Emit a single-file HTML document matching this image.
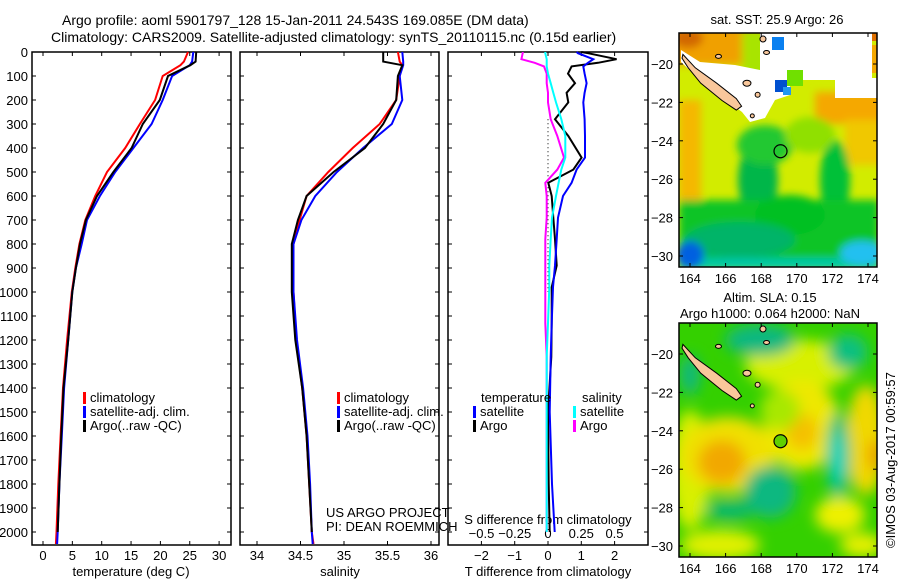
<!DOCTYPE html>
<html><head><meta charset="utf-8"><style>
html,body{margin:0;padding:0;background:#fff;}
svg{display:block;font-family:"Liberation Sans",sans-serif;}
text{font-size:13px;fill:#000;}
</style></head><body>
<svg id="fig" width="900" height="580" viewBox="0 0 900 580" xmlns="http://www.w3.org/2000/svg">
<defs>
<filter id="blur4" x="-50%" y="-50%" width="200%" height="200%"><feGaussianBlur stdDeviation="4"/></filter>
<filter id="blur7" x="-50%" y="-50%" width="200%" height="200%"><feGaussianBlur stdDeviation="7"/></filter>
<clipPath id="clipTop"><rect x="679" y="33" width="198" height="234"/></clipPath>
<clipPath id="clipBot"><rect x="679" y="323" width="198" height="234"/></clipPath>
</defs>
<text x="62" y="25" style="font-size:14px">Argo profile: aoml 5901797_128 15-Jan-2011 24.543S 169.085E (DM data)</text>
<text x="51" y="42" style="font-size:14px">Climatology: CARS2009. Satellite-adjusted climatology: synTS_20110115.nc (0.15d earlier)</text>

<g clip-path="url(#clipTop)">
<rect x="679" y="33" width="198" height="234" fill="#d2ec00"/>
<g filter="url(#blur4)">
<rect x="670" y="25" width="95" height="40" fill="#f0a000"/>
<ellipse cx="688" cy="38" rx="15" ry="10" fill="#d26800"/>
<rect x="742" y="30" width="35" height="55" fill="#a8e400"/>
<rect x="679" y="100" width="22" height="140" fill="#f5b800"/>
<rect x="815" y="92" width="70" height="32" fill="#f5a800"/>
<rect x="845" y="120" width="40" height="45" fill="#f0c800"/>
<ellipse cx="758" cy="180" rx="20" ry="38" fill="#00b648"/>
<ellipse cx="765" cy="145" rx="28" ry="20" fill="#20c830"/>
<ellipse cx="835" cy="180" rx="15" ry="40" fill="#00c038"/>
<ellipse cx="810" cy="135" rx="25" ry="18" fill="#90e000"/>
<rect x="679" y="200" width="200" height="70" fill="#10c428"/>
<ellipse cx="790" cy="215" rx="35" ry="20" fill="#00c020"/>
<ellipse cx="740" cy="240" rx="55" ry="18" fill="#00b468"/>
<rect x="679" y="258" width="200" height="12" fill="#00c8a8"/>
<ellipse cx="690" cy="255" rx="14" ry="14" fill="#0060e0"/>
<ellipse cx="862" cy="253" rx="22" ry="12" fill="#20c0f0"/>
</g>
<rect x="760" y="33" width="112" height="47" fill="#fff"/>
<rect x="835" y="78" width="42" height="20" fill="#fff"/>
<polygon points="681,50 700,62 735,65 760,70 790,80 790,95 775,100 765,118 750,122 742,112 700,80 681,62" fill="#fff"/>
<rect x="772" y="37" width="12" height="13" fill="#0a80f0"/>
<rect x="787" y="70" width="16" height="16" fill="#70e000"/>
<rect x="775" y="80" width="12" height="12" fill="#0050d0"/>
<rect x="783" y="87" width="8" height="8" fill="#2098f0"/>
<rect x="872" y="33" width="5" height="8" fill="#e07000"/>
<rect x="872" y="45" width="5" height="28" fill="#f5a800"/>
</g>
<g clip-path="url(#clipBot)">
<rect x="679" y="323" width="198" height="234" fill="#34d000"/>
<g filter="url(#blur7)">
<ellipse cx="800" cy="365" rx="55" ry="25" fill="#d8f000"/>
<ellipse cx="690" cy="470" rx="20" ry="60" fill="#d8f000"/>
<ellipse cx="728" cy="455" rx="48" ry="38" fill="#f0e000"/>
<ellipse cx="722" cy="462" rx="24" ry="22" fill="#f2a800"/>
<ellipse cx="802" cy="425" rx="38" ry="45" fill="#eee800"/>
<ellipse cx="802" cy="432" rx="16" ry="18" fill="#f5c000"/>
<ellipse cx="866" cy="440" rx="20" ry="55" fill="#f0d800"/>
<ellipse cx="876" cy="455" rx="8" ry="16" fill="#f0a000"/>
<ellipse cx="838" cy="457" rx="12" ry="45" fill="#10c080"/>
<ellipse cx="838" cy="457" rx="6" ry="25" fill="#00d8c8"/>
<ellipse cx="760" cy="340" rx="35" ry="16" fill="#10b880"/>
<ellipse cx="770" cy="492" rx="26" ry="26" fill="#10b880"/>
<ellipse cx="690" cy="375" rx="10" ry="20" fill="#10b880"/>
<ellipse cx="848" cy="352" rx="20" ry="18" fill="#10c080"/>
<ellipse cx="840" cy="515" rx="25" ry="18" fill="#eef000"/>
<ellipse cx="720" cy="545" rx="40" ry="15" fill="#e0f000"/>
<ellipse cx="862" cy="545" rx="22" ry="12" fill="#e8f000"/>
<ellipse cx="730" cy="510" rx="25" ry="10" fill="#10b870"/>
<ellipse cx="780" cy="410" rx="20" ry="20" fill="#a8e800"/>
</g>
</g>
<g id="mapOverlays"></g>

<g id="chart"></g>

<text transform="translate(895,548) rotate(-90)" style="font-size:13px">©IMOS 03-Aug-2017 00:59:57</text>
<text x="777" y="24" text-anchor="middle">sat. SST: 25.9 Argo: 26</text>
<text x="770" y="302" text-anchor="middle">Altim. SLA: 0.15</text>
<text x="770" y="318" text-anchor="middle">Argo h1000: 0.064 h2000: NaN</text>
<text x="326" y="517">US ARGO PROJECT</text>
<text x="326" y="531">PI: DEAN ROEMMICH</text>
</svg>
<script>
// ---- data ----
const depths = [0,40,55,100,200,300,400,500,600,700,800,900,1000,1200,1400,1600,1800,2000,2050];
const tClim = [24.7,24.0,23.4,20.4,19.1,16.5,14.0,10.9,8.9,7.2,6.2,5.5,4.9,4.1,3.4,3.0,2.6,2.3,2.2];
const tSat  = [25.6,25.4,25.0,22.0,20.4,18.5,15.4,12.3,9.7,7.5,6.6,5.6,5.0,4.3,3.6,3.2,2.8,2.5,2.4];
const tArgo = [26.1,26.0,25.1,21.3,19.9,17.0,15.1,12.0,9.2,7.3,6.3,5.6,5.0,4.3,3.5,3.1,2.8,2.5,2.4];
const sClim = [35.62,35.64,35.67,35.64,35.60,35.41,35.10,34.82,34.57,34.49,34.42,34.42,34.42,34.45,34.52,34.57,34.60,34.63,34.65];
const sSat  = [35.67,35.68,35.68,35.64,35.67,35.55,35.22,34.92,34.67,34.51,34.42,34.42,34.42,34.46,34.53,34.58,34.61,34.63,34.64];
const sArgo = [35.45,35.45,35.67,35.62,35.60,35.45,35.24,34.88,34.57,34.47,34.40,34.40,34.40,34.44,34.52,34.57,34.60,34.63,34.64];
const diffDepths = [0,5,30,45,60,90,130,170,210,280,350,440,490,545,600,690,780,890,980,1130,1270,1500,1800,2000];
const dTArgo = [1.0,1.2,2.06,1.5,0.71,0.6,0.81,0.56,0.61,0.21,0.61,1.01,0.76,0.01,0.11,0.16,0.21,0.26,0.11,0.11,0.1,0.0,0.02,0.05];
const dTSat  = [0.86,0.9,1.36,1.2,1.06,1.1,1.16,1.1,1.06,1.1,1.11,1.11,0.86,0.71,0.45,0.3,0.26,0.21,0.15,0.11,0.08,0.05,0.12,0.2];
const dSArgo = [-0.19,-0.19,-0.2,-0.1,-0.03,-0.01,-0.01,0,0,0.02,0.07,0.12,0.07,-0.02,-0.01,-0.01,-0.02,-0.02,-0.02,-0.02,-0.01,-0.01,-0.01,-0.01];
const dSSat  = [-0.02,-0.02,-0.01,-0.01,-0.01,0,0.02,0.04,0.06,0.1,0.13,0.13,0.1,0.08,0.06,0.03,0.02,0.01,0.01,0,-0.01,-0.01,-0.01,-0.01];
const depthTicks = [0,100,200,300,400,500,600,700,800,900,1000,1100,1200,1300,1400,1500,1600,1700,1800,1900,2000];
const tTicks = [0,5,10,15,20,25,30];
const sTicks = [34,34.5,35,35.5,36];
const sTickLabels = ["34","34.5","35","35.5","36"];
const dTTicks = [-2,-1,0,1,2];
const dSTicks = [-0.5,-0.25,0,0.25,0.5];
const dSTickLabels = ["\u22120.5","\u22120.25","0","0.25","0.5"];
const lonTicks = [164,166,168,170,172,174];
const latTicks = [-20,-22,-24,-26,-28,-30];
const argoLon = 169.085, argoLat = -24.543;

// ---- scales ----
const yD = d => 52 + 0.24*d;
const xT = t => 43 + 5.87*t;
const xS = s => 257 + 87*(s-34);
const xdT = v => 548 + 33.3*v;
const xdS = v => 548 + 133*v;
const mapX = lon => 690 + 17.8*(lon-164);
const mapYTop = lat => 64 + 19.2*(-20-lat);
const mapYBot = lat => 354 + 19.2*(-20-lat);

const NS = "http://www.w3.org/2000/svg";
const chart = document.getElementById("chart");
function mk(tag, attrs, parent){
  const e = document.createElementNS(NS, tag);
  for (const k in attrs) e.setAttribute(k, attrs[k]);
  (parent||chart).appendChild(e);
  return e;
}
function txt(s, x, y, anchor, parent){
  const t = mk("text", {x:x, y:y, "text-anchor":anchor||"start"}, parent);
  t.textContent = s;
  return t;
}

const panels = [[32,231],[240,439],[448,648]];
panels.forEach((p,i)=>{
  const r = mk("rect",{x:p[0],y:52,width:p[1]-p[0],height:493,fill:"none",stroke:"#000","stroke-width":1.5});
  
  
  depthTicks.forEach(d=>{
    mk("line",{x1:p[0],x2:p[0]+4,y1:yD(d),y2:yD(d),stroke:"#000"});
    mk("line",{x1:p[1]-4,x2:p[1],y1:yD(d),y2:yD(d),stroke:"#000"});
  });
});
depthTicks.forEach(d=>{
  const t = txt(String(d), 28, yD(d)+5, "end");
  
  
});
function xTicks(vals, fx, labels, ly, top){
  vals.forEach((v,i)=>{
    const x = fx(v);
    mk("line",{x1:x,x2:x,y1:541,y2:545,stroke:"#000"});
    if (top) mk("line",{x1:x,x2:x,y1:52,y2:56,stroke:"#000"});
    if (labels){
      const t = txt(labels[i], x, ly, "middle");
      
      
    }
  });
}
xTicks(tTicks, xT, tTicks.map(String), 560, true);
xTicks(sTicks, xS, sTickLabels, 560, true);
xTicks(dTTicks, xdT, dTTicks.map(v=>v<0?"\u2212"+(-v):String(v)), 560, true);
dSTicks.forEach((v,i)=>{
  const t = txt(dSTickLabels[i], xdS(v), 538, "middle");
  
  
});
[["temperature (deg C)",131,"temp-axis-title"],["salinity",340,"salinity-axis-title"],["T difference from climatology",548,"t-diff-axis-title"]].forEach(a=>{
  const t = txt(a[0], a[1], 576, "middle");
  
  
});
const st = txt("S difference from climatology", 548, 524, "middle");



const zl = mk("line",{x1:548,x2:548,y1:yD(280),y2:yD(1000),stroke:"#000","stroke-dasharray":"1,3"});



function profile(vals, ds, fx, color, name, w){
  const pts = vals.map((v,i)=>fx(v).toFixed(1)+","+yD(ds[i]).toFixed(1)).join(" ");
  const pl = mk("polyline",{points:pts,fill:"none",stroke:color,"stroke-width":w||2});
  
  
}
profile(tClim, depths, xT, "#f00", "temp-climatology-line");
profile(tSat, depths, xT, "#00f", "temp-satellite-line");
profile(tArgo.slice(0,18), depths.slice(0,18), xT, "#000", "temp-argo-line");
profile(sClim, depths, xS, "#f00", "salinity-climatology-line");
profile(sSat, depths, xS, "#00f", "salinity-satellite-line");
profile(sArgo.slice(0,18), depths.slice(0,18), xS, "#000", "salinity-argo-line");
profile(dSArgo, diffDepths, xdS, "#f0f", "s-diff-argo-line");
profile(dTArgo, diffDepths, xdT, "#000", "t-diff-argo-line");
profile(dTSat, diffDepths, xdT, "#00f", "t-diff-satellite-line");
profile(dSSat, diffDepths, xdS, "#0ff", "s-diff-satellite-line");

function legend(x, y, color, label, name){
  mk("rect",{x:x,y:y-10,width:3,height:12,fill:color});
  const t = txt(label, x+7, y, "start");
  
  
}
[83,337].forEach(x=>legend(x,402,"#f00","climatology","legend-climatology"));
[83,337].forEach(x=>legend(x,416,"#00f","satellite-adj. clim.","legend-satellite"));
[83,337].forEach(x=>legend(x,430,"#000","Argo(..raw -QC)","legend-argo"));
const lt = txt("temperature", 481, 402);  
const ls = txt("salinity", 582, 402);  
legend(473,416,"#00f","satellite","legend-t-satellite");
legend(473,430,"#000","Argo","legend-t-argo");
legend(573,416,"#0ff","satellite","legend-s-satellite");
legend(573,430,"#f0f","Argo","legend-s-argo");

const ov = document.getElementById("mapOverlays");
[[mapYTop,33,283,"sst"],[mapYBot,323,573,"sla"]].forEach(m=>{
  const fy = m[0], top = m[1];
  const g = mk("g",{},ov);
  const isl = [[163.6,-19.5],[164.3,-20.2],[165.5,-21.0],[166.6,-21.8],[166.9,-22.2],[166.6,-22.4],[165.8,-21.9],[164.6,-21.0],[163.9,-20.2],[163.55,-19.7]];
  const pi = mk("polygon",{points:isl.map(p=>mapX(p[0]).toFixed(1)+","+fy(p[1]).toFixed(1)).join(" "),fill:"#f9c79b",stroke:"#000","stroke-width":1},g);
  
  
  [[167.2,-21.0,4,3],[167.8,-21.6,2.5,2.5],[168.1,-18.7,3,3],[168.3,-19.4,3,2],[165.6,-19.6,3,2],[167.5,-22.7,2,2]].forEach(s=>{
    mk("ellipse",{cx:mapX(s[0]),cy:fy(s[1]),rx:s[2],ry:s[3],fill:"#f9c79b",stroke:"#000"},g);
  });
  const c = mk("circle",{cx:mapX(argoLon),cy:fy(argoLat),r:6.5,fill:m[3]==="sla"?"#60d000":"none",stroke:"#000","stroke-width":1.2},ov);
  
  
  const fr = mk("rect",{x:679,y:top,width:198,height:234,fill:"none",stroke:"#000","stroke-width":1.5},ov);
  
  
  lonTicks.forEach(l=>{
    const x = mapX(l);
    mk("line",{x1:x,x2:x,y1:top,y2:top+4,stroke:"#000"},ov);
    mk("line",{x1:x,x2:x,y1:top+230,y2:top+234,stroke:"#000"},ov);
    const t = txt(String(l), x, m[2], "middle", ov);
    
    
  });
  latTicks.forEach(l=>{
    const y = fy(l);
    mk("line",{x1:679,x2:683,y1:y,y2:y,stroke:"#000"},ov);
    mk("line",{x1:873,x2:877,y1:y,y2:y,stroke:"#000"},ov);
    const t = txt("\u2212"+(-l), 673, y+5, "end", ov);
    
    
  });
});
</script>
</body></html>
